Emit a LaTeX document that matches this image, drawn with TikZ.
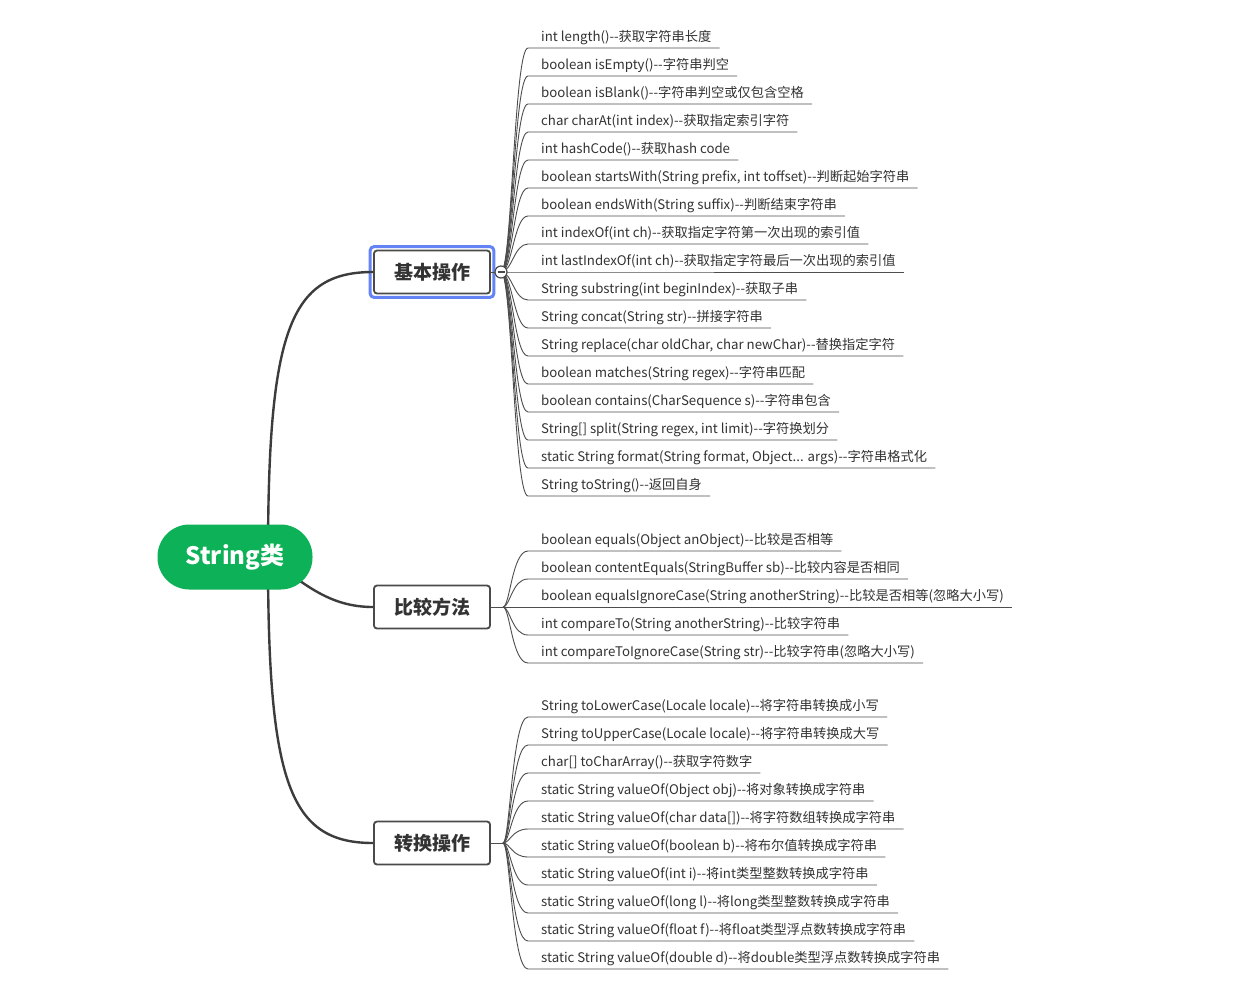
\documentclass[tikz,border=0pt]{standalone}
\usepackage{fontspec}
\newfontfamily\cjk{Noto Sans CJK SC}
\usetikzlibrary{fit}
\definecolor{txt}{HTML}{333333}
\definecolor{ln}{HTML}{4D4D4D}
\definecolor{tr}{HTML}{3C3C3C}
\definecolor{bd}{HTML}{4A4A4A}
\definecolor{rootgreen}{HTML}{0DB157}
\definecolor{hl}{HTML}{6483F5}
\def\threedots{...}
\begin{document}
\begin{tikzpicture}[x=1pt,y=-1pt,
  leaf/.style={anchor=base west, inner xsep=8pt, inner ysep=0pt, font=\cjk\fontsize{13.25}{15}\selectfont, text=txt},
  leafline/.style={draw=ln, line width=0.9pt},
  trunk/.style={draw=tr, line width=2.4pt},
  branch/.style={draw=bd, line width=1.8pt, fill=white, rounded corners=3pt, minimum width=116pt, minimum height=43pt, inner sep=0pt, font=\cjk\fontsize{19}{21}\selectfont\bfseries, text=txt},
  root/.style={fill=rootgreen, rounded corners=32pt, minimum width=155pt, minimum height=65pt, inner sep=0pt, font=\cjk\fontsize{24}{26}\selectfont\bfseries, text=white},
]
\fill[white] (0,0) rectangle (1238,1002);
\useasboundingbox (0,0) rectangle (1238,1002);

% branches
\node[branch] (c1) at (432,272) {基本操作};
\node[branch] (c2) at (432,607) {比较方法};
\node[branch] (c3) at (432,843) {转换操作};
\node[fit=(c1), draw=hl, line width=3pt, rounded corners=4pt, inner sep=3pt] (hlbox) {};

% trunk lines
\coordinate (r0) at (268,557);
\draw[trunk] (r0) .. controls (268,330) and (290,272) .. (c1.west);
\draw[trunk] (r0) .. controls (305,585) and (330,607) .. (c2.west);
\draw[trunk] (r0) .. controls (268,784) and (290,843) .. (c3.west);

\node[root] (root) at (235,557) {String类};

% branch 1 leaves
\coordinate (p1) at (501,272);
\draw[leafline] (c1.east) -- (p1);
\foreach \t [count=\i from 0] in {
{int length()--获取字符串长度},
{boolean isEmpty()--字符串判空},
{boolean isBlank()--字符串判空或仅包含空格},
{char charAt(int index)--获取指定索引字符},
{int hashCode()--获取hash code},
{boolean startsWith(String prefix, int toffset)--判断起始字符串},
{boolean endsWith(String suffix)--判断结束字符串},
{int indexOf(int ch)--获取指定字符第一次出现的索引值},
{int lastIndexOf(int ch)--获取指定字符最后一次出现的索引值},
{String substring(int beginIndex)--获取子串},
{String concat(String str)--拼接字符串},
{String replace(char oldChar, char newChar)--替换指定字符},
{boolean matches(String regex)--字符串匹配},
{boolean contains(CharSequence s)--字符串包含},
{String[] split(String regex, int limit)--字符换划分},
{static String format(String format, Object\threedots{} args)--字符串格式化},
{String toString()--返回自身}}{
  \pgfmathsetmacro\cy{36+28*\i}
  \pgfmathsetmacro\uy{\cy+12}
  \node[leaf] (a\i) at (533,\cy+5) {\t};
  \draw[leafline] (p1) .. controls (512,272) and (514,\uy) .. (528,\uy) -- (a\i.east |- 0,\uy);
}
\node[circle, draw=bd, fill=white, line width=1.2pt, minimum size=12pt, inner sep=0pt] (col1) at (p1) {};
\draw[draw=bd, line width=1.4pt] ([xshift=-3.5pt]col1.center) -- ([xshift=3.5pt]col1.center);

% branch 2 leaves
\coordinate (p2) at (503,607);
\draw[leafline] (c2.east) -- (p2);
\foreach \t [count=\i from 0] in {
{boolean equals(Object anObject)--比较是否相等},
{boolean contentEquals(StringBuffer sb)--比较内容是否相同},
{boolean equalsIgnoreCase(String anotherString)--比较是否相等(忽略大小写)},
{int compareTo(String anotherString)--比较字符串},
{int compareToIgnoreCase(String str)--比较字符串(忽略大小写)}}{
  \pgfmathsetmacro\cy{539+28*\i}
  \pgfmathsetmacro\uy{\cy+12}
  \node[leaf] (b\i) at (533,\cy+5) {\t};
  \draw[leafline] (p2) .. controls (510,607) and (512,\uy) .. (528,\uy) -- (b\i.east |- 0,\uy);
}

% branch 3 leaves
\coordinate (p3) at (503,843);
\draw[leafline] (c3.east) -- (p3);
\foreach \t [count=\i from 0] in {
{String toLowerCase(Locale locale)--将字符串转换成小写},
{String toUpperCase(Locale locale)--将字符串转换成大写},
{char[] toCharArray()--获取字符数字},
{static String valueOf(Object obj)--将对象转换成字符串},
{static String valueOf(char data[])--将字符数组转换成字符串},
{static String valueOf(boolean b)--将布尔值转换成字符串},
{static String valueOf(int i)--将int类型整数转换成字符串},
{static String valueOf(long l)--将long类型整数转换成字符串},
{static String valueOf(float f)--将float类型浮点数转换成字符串},
{static String valueOf(double d)--将double类型浮点数转换成字符串}}{
  \pgfmathsetmacro\cy{705+28*\i}
  \pgfmathsetmacro\uy{\cy+12}
  \node[leaf] (d\i) at (533,\cy+5) {\t};
  \draw[leafline] (p3) .. controls (510,843) and (512,\uy) .. (528,\uy) -- (d\i.east |- 0,\uy);
}
\end{tikzpicture}
\end{document}
